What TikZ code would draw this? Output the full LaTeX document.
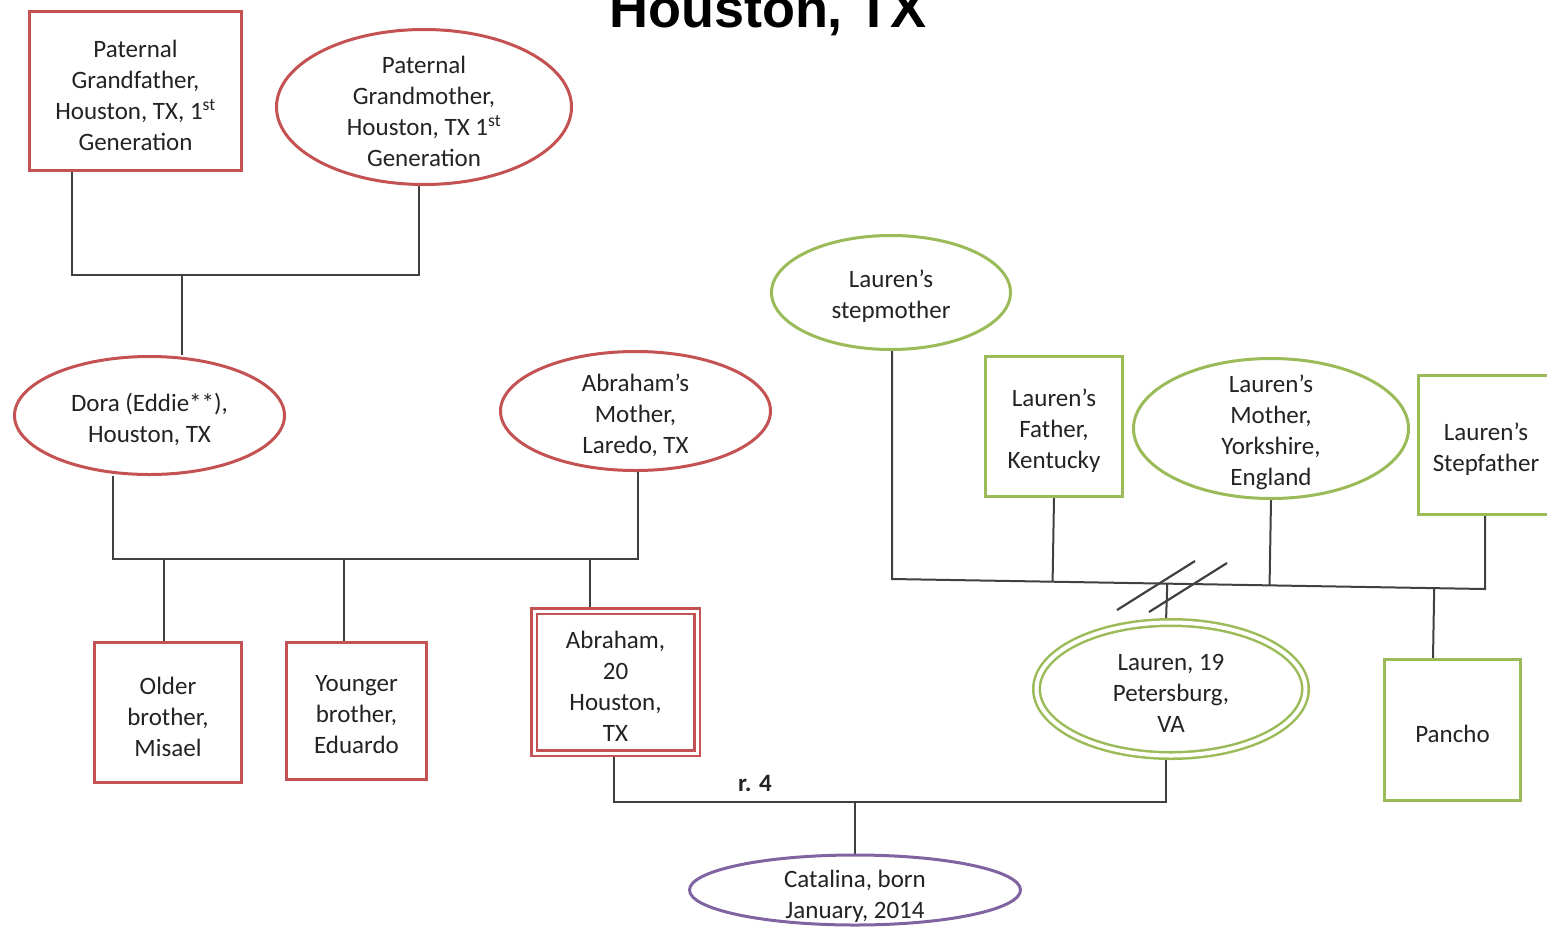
\documentclass[tikz,border=0pt]{standalone}
\usepackage{fontspec}
\setmainfont{Carlito}
\newfontfamily\titlefont{Liberation Sans}
\usetikzlibrary{shapes.geometric,calc}
\pgfdeclarelayer{bg}
\pgfsetlayers{bg,main}
\definecolor{famred}{RGB}{196,82,82}
\definecolor{famgreen}{RGB}{155,187,89}
\definecolor{fampurple}{RGB}{128,100,162}
\definecolor{linegray}{RGB}{64,64,64}
\definecolor{txtgray}{RGB}{35,35,35}

\begin{document}
\begin{tikzpicture}[x=1pt,y=-1pt,
  txt/.style={font=\fontsize{25}{31}\selectfont, text=txtgray, align=center},
  person/.style={inner sep=0pt, line width=3pt, fill=white},
  male/.style={person, rectangle, draw},
  female/.style={person, ellipse, draw},
  ltext/.style={txt, inner sep=0pt},
  says/.style={label={[ltext, yshift=-4pt]center:{#1}}},
  link/.style={draw=linegray, line width=2pt},
  slash/.style={draw=linegray, line width=2.2pt},
]
\useasboundingbox (0,0) rectangle (1547,927);

% title, partly above the page edge
\node[font=\titlefont\bfseries\fontsize{54}{60}\selectfont, anchor=base] (title) at (768,27) {Houston, TX};

% ---- paternal side (red) ----
\node[male, draw=famred, minimum width=212, minimum height=159,
  says={Paternal\\Grandfather,\\Houston, TX, 1\textsuperscript{st}\\Generation}] (pgf) at (135.5,91) {};
\node[female, draw=famred, minimum width=295, minimum height=155,
  says={Paternal\\Grandmother,\\Houston, TX 1\textsuperscript{st}\\Generation}] (pgm) at (424,107) {};

\node[female, draw=famred, minimum width=270, minimum height=118,
  says={Dora (Eddie**),\\Houston, TX}] (dora) at (149.5,415.5) {};
\node[female, draw=famred, minimum width=270, minimum height=119,
  says={Abraham’s\\Mother,\\Laredo, TX}] (am) at (635.5,411) {};

\node[male, draw=famred, minimum width=147, minimum height=140,
  says={Older\\brother,\\Misael}] (ob) at (168,712.5) {};
\node[male, draw=famred, minimum width=140, minimum height=137,
  says={Younger\\brother,\\Eduardo}] (yb) at (356.5,711) {};
\node[male, draw=famred, double=white, double distance=3pt, line width=2.5pt,
  minimum width=163, minimum height=142,
  says={Abraham,\\20\\Houston,\\TX}] (abr) at (615.5,682) {};

% ---- Lauren's side (green) ----
\node[female, draw=famgreen, minimum width=239, minimum height=114,
  says={Lauren’s\\stepmother}] (lsm) at (891,292.5) {};
\node[male, draw=famgreen, minimum width=137, minimum height=140,
  says={Lauren’s\\Father,\\Kentucky}] (lf) at (1054,426.5) {};
\node[female, draw=famgreen, minimum width=275, minimum height=140,
  says={Lauren’s\\Mother,\\Yorkshire,\\England}] (lm) at (1271,428.5) {};
\node[male, draw=famgreen, minimum width=135, minimum height=139,
  says={Lauren’s\\Stepfather}] (lsf) at (1486,445) {};

\node[female, draw=famgreen, double=white, double distance=4pt, line width=2.5pt,
  minimum width=269, minimum height=133,
  says={Lauren, 19\\Petersburg,\\VA}] (lauren) at (1171,689) {};
\node[male, draw=famgreen, minimum width=136, minimum height=141,
  says={Pancho}] (pancho) at (1452.5,730) {};

% ---- daughter (purple) ----
\node[female, draw=fampurple, minimum width=331, minimum height=70,
  label={[ltext, yshift=-6pt]center:{Catalina, born\\January, 2014}}] (cat) at (855,890) {};

\node[font=\fontsize{25}{31}\selectfont\bfseries, text=txtgray] (rel) at (755,783) {r. 4};

% ---- connecting lines ----
\coordinate (gfx) at (72,275);
\coordinate (gmx) at (419,275);
\coordinate (gp) at (182,275);
\coordinate (dl) at (113,559);
\coordinate (ml) at (638,559);
\coordinate (c1) at (164,559);
\coordinate (c2) at (344,559);
\coordinate (c3) at (590,559);
\coordinate (ls1) at (892,579);
\coordinate (ls2) at (1485,589);
\coordinate (ld) at (1166,660);
\coordinate (pd) at (1433,660);
\coordinate (ab) at (614,802);
\coordinate (lb) at (1166,802);
\coordinate (cd) at (855,802);
\coordinate (s1a) at (1117,610);
\coordinate (s1b) at (1195,561);
\coordinate (s2a) at (1149,612);
\coordinate (s2b) at (1227,563);

\begin{pgfonlayer}{bg}
  % paternal grandparents and Dora
  \draw[link] (gfx |- pgf.south) -- (gfx) -- (gmx) -- (gmx |- pgm.south);
  \draw[link] (gp) -- (gp |- dora.north);
  % Dora, Abraham's mother and their sons
  \draw[link] (dl |- dora.south) -- (dl) -- (ml) -- (ml |- am.south);
  \draw[link] (c1) -- (c1 |- ob.north);
  \draw[link] (c2) -- (c2 |- yb.north);
  \draw[link] (c3) -- (c3 |- abr.north);
  % Lauren's parents and step-parents
  \draw[link] (ls1 |- lsm.south) -- (ls1) -- (ls2) -- (ls2 |- lsf.south);
  \draw[link] (lf.south) -- ($(ls1)!(lf.south)!(ls2)$);
  \draw[link] (lm.south) -- ($(ls1)!(lm.south)!(ls2)$);
  \draw[link] ($(ls1)!(ld)!(ls2)$) -- (ld |- lauren.north);
  \draw[link] ($(ls1)!(pd)!(ls2)$) -- (pd |- pancho.north);
  % divorce marks
  \draw[slash] (s1a) -- (s1b);
  \draw[slash] (s2a) -- (s2b);
  % Abraham and Lauren, and Catalina
  \draw[link] (ab |- abr.south) -- (ab) -- (lb) -- (lb |- lauren.south);
  \draw[link] (cd) -- (cat.north);
\end{pgfonlayer}
\end{tikzpicture}
\end{document}
